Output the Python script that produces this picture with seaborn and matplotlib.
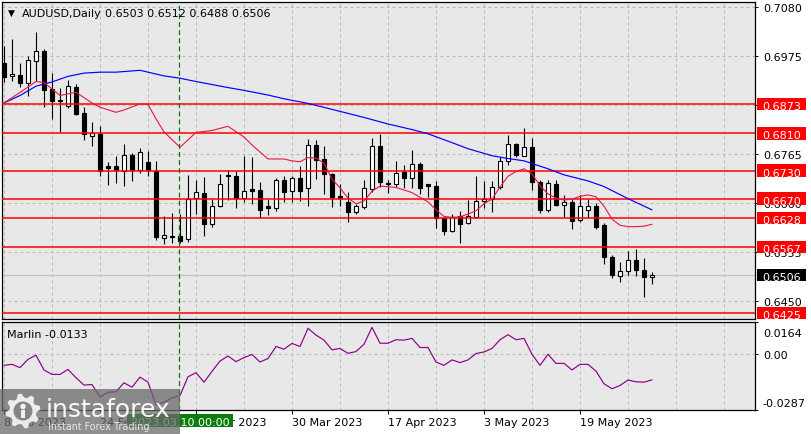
import numpy as np
import pandas as pd
import matplotlib
matplotlib.use("Agg")
import matplotlib.pyplot as plt
import matplotlib.transforms as mtransforms
from matplotlib.patches import Rectangle, Polygon, Circle
import seaborn as sns

sns.set_theme(style="white")
plt.rcParams["font.family"] = ["DejaVu Sans"]

# ---------------- data ----------------
symbol = "AUDUSD,Daily"
ohlc_title = "0.6503 0.6512 0.6488 0.6506"
bar_index = list(range(82))
opens = [0.6960, 0.6932, 0.6935, 0.6917, 0.6966, 0.6986, 0.6905, 0.6881, 0.6868, 0.6909,
         0.6853, 0.6805, 0.6809, 0.6739, 0.6739, 0.6730, 0.6764, 0.6732, 0.6749, 0.6730,
         0.6585, 0.6591, 0.6589, 0.6583, 0.6671, 0.6682, 0.6616, 0.6655, 0.6721, 0.6719,
         0.6671, 0.6690, 0.6689, 0.6655, 0.6650, 0.6710, 0.6686, 0.6714, 0.6692, 0.6786,
         0.6755, 0.6723, 0.6675, 0.6662, 0.6641, 0.6653, 0.6691, 0.6782, 0.6704, 0.6702,
         0.6727, 0.6715, 0.6744, 0.6701, 0.6697, 0.6628, 0.6601, 0.6632, 0.6617, 0.6631,
         0.6664, 0.6669, 0.6696, 0.6750, 0.6787, 0.6762, 0.6780, 0.6705, 0.6645, 0.6702,
         0.6657, 0.6663, 0.6624, 0.6646, 0.6654, 0.6614, 0.6544, 0.6505, 0.6516, 0.6539,
         0.6518, 0.6503]
highs = [0.6998, 0.7012, 0.6960, 0.6976, 0.7026, 0.6991, 0.6939, 0.6907, 0.6924, 0.6916,
         0.6866, 0.6835, 0.6825, 0.6749, 0.6761, 0.6787, 0.6768, 0.6779, 0.6772, 0.6751,
         0.6633, 0.6639, 0.6637, 0.6721, 0.6710, 0.6716, 0.6669, 0.6723, 0.6731, 0.6730,
         0.6761, 0.6759, 0.6705, 0.6669, 0.6714, 0.6718, 0.6719, 0.6739, 0.6798, 0.6796,
         0.6782, 0.6724, 0.6701, 0.6684, 0.6659, 0.6711, 0.6800, 0.6809, 0.6710, 0.6751,
         0.6742, 0.6774, 0.6749, 0.6701, 0.6708, 0.6629, 0.6637, 0.6643, 0.6668, 0.6719,
         0.6707, 0.6707, 0.6759, 0.6806, 0.6789, 0.6821, 0.6799, 0.6709, 0.6710, 0.6711,
         0.6678, 0.6669, 0.6678, 0.6669, 0.6661, 0.6618, 0.6549, 0.6534, 0.6558, 0.6562,
         0.6542, 0.6512]
lows = [0.6919, 0.6922, 0.6909, 0.6891, 0.6923, 0.6867, 0.6841, 0.6813, 0.6864, 0.6849,
        0.6796, 0.6783, 0.6719, 0.6699, 0.6704, 0.6698, 0.6708, 0.6725, 0.6719, 0.6581,
        0.6572, 0.6575, 0.6575, 0.6578, 0.6637, 0.6591, 0.6610, 0.6653, 0.6668, 0.6649,
        0.6662, 0.6658, 0.6629, 0.6636, 0.6644, 0.6663, 0.6663, 0.6664, 0.6654, 0.6712,
        0.6680, 0.6653, 0.6654, 0.6621, 0.6637, 0.6647, 0.6685, 0.6694, 0.6683, 0.6695,
        0.6693, 0.6693, 0.6680, 0.6674, 0.6607, 0.6592, 0.6599, 0.6576, 0.6616, 0.6630,
        0.6650, 0.6642, 0.6691, 0.6743, 0.6760, 0.6761, 0.6689, 0.6639, 0.6642, 0.6654,
        0.6630, 0.6605, 0.6619, 0.6628, 0.6606, 0.6530, 0.6499, 0.6492, 0.6506, 0.6505,
        0.6460, 0.6488]
closes = [0.6930, 0.6937, 0.6918, 0.6967, 0.6986, 0.6903, 0.6880, 0.6879, 0.6911, 0.6851,
          0.6809, 0.6811, 0.6729, 0.6736, 0.6731, 0.6764, 0.6731, 0.6771, 0.6732, 0.6587,
          0.6592, 0.6588, 0.6580, 0.6669, 0.6685, 0.6616, 0.6655, 0.6701, 0.6718, 0.6671,
          0.6686, 0.6687, 0.6646, 0.6650, 0.6710, 0.6685, 0.6714, 0.6686, 0.6786, 0.6752,
          0.6723, 0.6674, 0.6672, 0.6642, 0.6655, 0.6692, 0.6782, 0.6705, 0.6701, 0.6726,
          0.6715, 0.6744, 0.6692, 0.6698, 0.6629, 0.6601, 0.6631, 0.6616, 0.6632, 0.6664,
          0.6670, 0.6696, 0.6750, 0.6787, 0.6764, 0.6780, 0.6705, 0.6646, 0.6703, 0.6656,
          0.6662, 0.6623, 0.6654, 0.6654, 0.6609, 0.6544, 0.6507, 0.6516, 0.6539, 0.6517,
          0.6503, 0.6506]

blue_ma_index = [0, 2, 4, 6, 8, 10, 12, 14, 17, 20, 22, 24, 28, 30, 33, 35, 38, 42, 45, 48,
                 51, 53, 56, 58, 61, 63, 65, 68, 70, 73, 75, 78, 81]
blue_ma = [0.6875, 0.6891, 0.6911, 0.6920, 0.6932, 0.6939, 0.6941, 0.6941, 0.6945, 0.6933,
           0.6928, 0.6921, 0.6908, 0.6902, 0.6892, 0.6884, 0.6874, 0.6857, 0.6844, 0.6830,
           0.6818, 0.6809, 0.6790, 0.6777, 0.6762, 0.6756, 0.6751, 0.6734, 0.6721, 0.6708,
           0.6696, 0.6670, 0.6646]

red_ma_index = [0, 3, 4, 5, 7, 9, 11, 12, 14, 15, 17, 18, 19, 20, 22, 24, 26, 28, 30, 31,
                33, 35, 36, 37, 38, 39, 40, 41, 42, 43, 44, 45, 46, 47, 49, 51, 53, 54, 55, 56,
                57, 58, 59, 60, 61, 62, 63, 64, 65, 66, 67, 68, 69, 70, 71, 72, 73, 74, 75, 76,
                77, 78, 79, 80, 81]
red_ma = [0.6875, 0.6909, 0.6921, 0.6919, 0.6891, 0.6898, 0.6875, 0.6866, 0.6855, 0.6860,
          0.6873, 0.6872, 0.6841, 0.6813, 0.6780, 0.6812, 0.6816, 0.6825, 0.6802, 0.6785,
          0.6755, 0.6755, 0.6751, 0.6749, 0.6758, 0.6757, 0.6746, 0.6712, 0.6693, 0.6671,
          0.6659, 0.6665, 0.6686, 0.6697, 0.6694, 0.6683, 0.6663, 0.6646, 0.6632, 0.6630,
          0.6631, 0.6637, 0.6644, 0.6659, 0.6669, 0.6695, 0.6718, 0.6728, 0.6734, 0.6723,
          0.6698, 0.6680, 0.6671, 0.6667, 0.6669, 0.6675, 0.6678, 0.6674, 0.6654, 0.6626,
          0.6613, 0.6610, 0.6610, 0.6611, 0.6615]

marlin = [-0.0058, -0.0053, -0.0070, -0.0027, -0.0006, -0.0082, -0.0105, -0.0105, -0.0079, -0.0122,
          -0.0160, -0.0157, -0.0221, -0.0197, -0.0195, -0.0148, -0.0171, -0.0119, -0.0145, -0.0261,
          -0.0249, -0.0226, -0.0214, -0.0117, -0.0096, -0.0145, -0.0089, -0.0036, -0.0010, -0.0039,
          -0.0018, -0.0002, -0.0041, -0.0023, 0.0039, 0.0025, 0.0055, 0.0039, 0.0133, 0.0098,
          0.0072, 0.0022, 0.0029, 0.0004, 0.0013, 0.0051, 0.0138, 0.0056, 0.0056, 0.0074,
          0.0072, 0.0081, 0.0034, 0.0034, -0.0041, -0.0058, -0.0030, -0.0044, -0.0030, 0.0003,
          0.0011, 0.0029, 0.0074, 0.0100, 0.0074, 0.0081, -0.0001, -0.0058, -0.0001, -0.0048,
          -0.0048, -0.0082, -0.0053, -0.0053, -0.0088, -0.0153, -0.0179, -0.0162, -0.0134, -0.0143,
          -0.0145, -0.0133]
marlin_name = "Marlin"
marlin_last = -0.0133

tick_positions = [0, 12, 24, 36, 48, 60, 72]
tick_labels = ["8 Feb 2023", "24 Feb 2023", "14 Mar 2023", "30 Mar 2023",
               "17 Apr 2023", "3 May 2023", "19 May 2023"]
price_ticks = [0.7080, 0.6975, 0.6870, 0.6765, 0.6660, 0.6555, 0.6450]
price_tick_labels = ["0.7080", "0.6975", "", "0.6765", "0.6660", "0.6555", "0.6450"]
levels = [0.6873, 0.6810, 0.6730, 0.6670, 0.6628, 0.6567, 0.6425]
last_price = 0.6506
marlin_ticks = [0.0164, 0.00, -0.0287]
marlin_tick_labels = ["0.0164", "0.00", "-0.0287"]
crosshair_index = 22
crosshair_label = "2023.03.10 00:00"
logo_text = "instaforex"
logo_sub = "Instant Forex Trading"

# ---------------- layout ----------------
W, H = 812, 435
fig = plt.figure(figsize=(W / 100, H / 100), dpi=100)
fig.patch.set_facecolor("white")

def fx(px):
    return px / W

def fy(py):
    return 1 - py / H

AX_L, AX_R = 1.7, 755.3
ax = fig.add_axes([fx(AX_L), fy(319.5), fx(AX_R) - fx(AX_L), (319.5 - 3) / H])
ax2 = fig.add_axes([fx(AX_L), fy(410.7), fx(AX_R) - fx(AX_L), (410.7 - 323.3) / H], sharex=ax)

BG = "#E8E8E8"
GRID = "#B9B9B9"
for a in (ax, ax2):
    a.set_facecolor(BG)
    for s in a.spines.values():
        s.set_color("black")
        s.set_linewidth(0.9)
        s.set_visible(True)
    a.set_axisbelow(True)

ax.set_xlim((AX_L - 4) / 8, (AX_R - 4) / 8)
ax.set_ylim(0.641318, 0.709135)
ax2.set_ylim(-0.0287, 0.0164)

# x ticks / grid
ax2.set_xticks(tick_positions)
ax2.set_xticklabels(tick_labels, ha="left")
ax2.set_xticks(list(range(0, 91, 6)), minor=True)
for a in (ax, ax2):
    a.xaxis.grid(True, which="both", color=GRID, linestyle=(0, (3, 3)), linewidth=0.72)
ax.tick_params(axis="x", which="both", bottom=False, labelbottom=False, length=0)
ax2.tick_params(axis="x", which="major", bottom=True, length=2.9, width=0.7, pad=2.4,
                labelsize=8, colors="black", direction="out")
ax2.tick_params(axis="x", which="minor", bottom=False, length=0)

# main y axis
ax.set_yticks(price_ticks)
ax.set_yticklabels(price_tick_labels)
ax.yaxis.tick_right()
ax.tick_params(axis="y", right=True, left=False, labelright=True, labelleft=False,
               length=2.2, width=0.7, pad=3.2, labelsize=8, colors="black", direction="out")
ax.yaxis.grid(True, color=GRID, linestyle=(0, (3, 3)), linewidth=0.72)

# indicator y axis
ax2.set_yticks(marlin_ticks)
ax2.set_yticklabels(marlin_tick_labels)
ax2.yaxis.tick_right()
ax2.tick_params(axis="y", right=True, left=False, labelright=True, labelleft=False,
                length=2.2, width=0.7, pad=3.2, labelsize=8, colors="black", direction="out")
ax2.yaxis.grid(False)
down_px = [9.4, 0.0, -7.4]
for lbl, dpx in zip(ax2.get_yticklabels(), down_px):
    lbl.set_transform(lbl.get_transform() +
                      mtransforms.ScaledTranslation(0, -dpx / 100, fig.dpi_scale_trans))
ax2.axhline(0.0, color=GRID, linestyle=(0, (3, 3)), linewidth=0.72, zorder=1)

# ---------------- candles ----------------
df = pd.DataFrame({"i": bar_index, "o": opens, "h": highs, "l": lows, "c": closes})
up = df["c"] >= df["o"]
ax.axhline(last_price, color="#C3C3C3", linewidth=0.9, zorder=2)
ax.vlines(df["i"], df["l"], df["h"], color="black", linewidth=0.8, zorder=3)
ax.bar(df["i"], (df["c"] - df["o"]).abs(), bottom=np.minimum(df["o"], df["c"]), width=0.62,
       color=np.where(up, "white", "black"), edgecolor="black", linewidth=0.8, zorder=4)

for lv in levels:
    ax.axhline(lv, color="#FF0000", linewidth=1.1, zorder=5)

sns.lineplot(x=blue_ma_index, y=blue_ma, ax=ax, color="#0000FF", linewidth=0.85, zorder=6)
sns.lineplot(x=red_ma_index, y=red_ma, ax=ax, color="#E8173F", linewidth=0.8, zorder=6)
sns.lineplot(x=bar_index, y=marlin, ax=ax2, color="#8B008B", linewidth=0.85, zorder=4)
for a in (ax, ax2):
    a.set_xlabel("")
    a.set_ylabel("")

# crosshair
for a in (ax, ax2):
    a.axvline(crosshair_index - 0.12, color="#1A6E1A", linestyle=(0, (4, 2.5)),
              linewidth=0.9, zorder=7)

# ---------------- price tags ----------------
def price_tag(axx, yv, text, fc, px_per_unit):
    trans = mtransforms.blended_transform_factory(axx.transAxes, axx.transData)
    span = AX_R - AX_L
    x0 = (757 - AX_L) / span
    w = 49 / span
    h = 12.4 / px_per_unit
    axx.add_patch(Rectangle((x0, yv - h / 2), w, h, transform=trans, facecolor=fc,
                            edgecolor="none", clip_on=False, zorder=20))
    axx.text((762.7 - AX_L) / span, yv - 5.0 / px_per_unit, text, transform=trans,
             color="white", fontsize=8, va="baseline", ha="left", clip_on=False, zorder=21)

ppu_main = 316.5 / (0.709135 - 0.641318)
for lv in levels:
    price_tag(ax, lv, f"{lv:.4f}", "#FF0000", ppu_main)
price_tag(ax, last_price, f"{last_price:.4f}", "black", ppu_main)

# ---------------- titles ----------------
fig.text(fx(11), fy(13.5), "\u25BC", fontsize=6.5, ha="center", va="center", color="black")
fig.text(fx(21.7), fy(17.3), symbol, fontsize=8, ha="left", va="baseline", color="black")
fig.text(fx(105), fy(17.3), ohlc_title, fontsize=8, ha="left", va="baseline", color="black")
fig.text(fx(7.3), fy(338.5), f"{marlin_name} {marlin_last:.4f}", fontsize=8, ha="left",
         va="baseline", color="black")

# crosshair label on the time axis
fig.add_artist(Rectangle((fx(127.5), fy(428.3)), fx(233) - fx(127.5), (428.3 - 415) / H,
                         transform=fig.transFigure, facecolor="#0B7D0B", edgecolor="none",
                         zorder=5))
fig.text(fx(180.3), fy(426.0), crosshair_label, fontsize=8, ha="center", va="baseline",
         color="white", zorder=6)

# ---------------- watermark logo ----------------
fig.add_artist(Rectangle((0, fy(435)), fx(180), 45 / H, transform=fig.transFigure,
                         facecolor="#6A6A6A", edgecolor="none", alpha=0.75, zorder=10))
T = fig.dpi_scale_trans
cx, cy = 23 / 100, (435 - 412) / 100
teeth = []
for k in range(32):
    ang = 2 * np.pi * (k + 0.5) / 32
    r = 0.175 if (k % 4) in (0, 1) else 0.135
    teeth.append((cx + r * np.cos(ang), cy + r * np.sin(ang)))
fig.add_artist(Polygon(teeth, closed=True, transform=T, facecolor="#F2F2F2",
                       edgecolor="none", alpha=0.95, zorder=11))
fig.add_artist(Circle((cx, cy), 0.095, transform=T, facecolor="#858585",
                      edgecolor="none", zorder=12))
fig.add_artist(Circle((cx, cy + 0.045), 0.028, transform=T, facecolor="#F2F2F2",
                      edgecolor="none", zorder=13))
fig.add_artist(Rectangle((cx - 0.022, cy - 0.07), 0.044, 0.085, transform=T,
                         facecolor="#F2F2F2", edgecolor="none", zorder=13))
fig.text(fx(46), fy(417), logo_text, fontsize=18, ha="left", va="baseline",
         color="white", alpha=0.95, zorder=12)
fig.text(fx(48), fy(430), logo_sub, fontsize=6.9, ha="left", va="baseline",
         color="#E6E6E6", zorder=12)

fig.savefig("out.png", dpi=100)
